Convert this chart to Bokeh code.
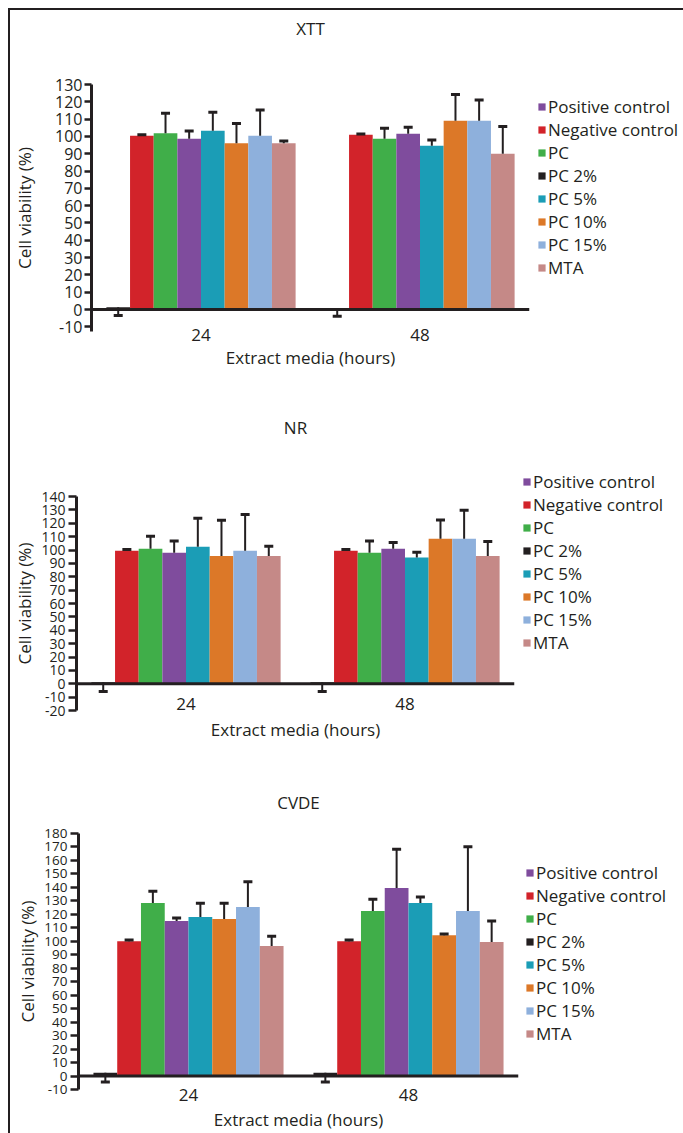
from bokeh.plotting import figure
from bokeh.models import (FactorRange, ColumnDataSource, Whisker, TeeHead, Span,
                          Legend, LegendItem, FixedTicker, Title)
from bokeh.layouts import column
from bokeh.transform import dodge
from bokeh.embed import file_html
from bokeh.resources import INLINE

# ---------------- data ----------------
hours = ["24", "48"]
# order of bars inside each group (left to right)
bar_series = ["PC 2%", "Negative control", "PC", "Positive control",
              "PC 5%", "PC 10%", "PC 15%", "MTA"]
# order of the legend entries
legend_order = ["Positive control", "Negative control", "PC", "PC 2%",
                "PC 5%", "PC 10%", "PC 15%", "MTA"]

# XTT (bar order)
xtt_24 = [1.3, 100.4, 101.8, 98.7, 103.3, 96.0, 100.4, 96.0]
xtt_48 = [0.9, 101.0, 98.7, 101.6, 94.6, 109.1, 109.1, 90.0]
xtt_err_24 = [4.8, 0.6, 11.6, 4.5, 10.7, 11.4, 14.9, 1.4]
xtt_err_48 = [4.8, 0.4, 6.0, 3.7, 3.4, 15.1, 12.0, 15.8]

# NR
nr_24 = [1.2, 99.5, 101.0, 98.0, 102.5, 95.5, 99.5, 95.5]
nr_48 = [1.2, 99.5, 98.0, 101.0, 94.3, 108.5, 108.5, 95.5]
nr_err_24 = [7.0, 0.8, 9.3, 8.7, 21.3, 26.8, 27.0, 7.3]
nr_err_48 = [7.0, 0.8, 8.8, 4.7, 4.1, 13.9, 21.3, 10.9]

# CVDE
cvde_24 = [2.4, 100.0, 128.5, 115.0, 118.0, 116.5, 125.5, 96.5]
cvde_48 = [2.4, 100.0, 122.5, 139.5, 128.5, 104.5, 122.5, 99.5]
cvde_err_24 = [6.8, 1.0, 8.7, 2.2, 10.3, 11.8, 18.7, 7.2]
cvde_err_48 = [6.8, 1.0, 8.7, 28.8, 4.4, 1.0, 47.7, 15.5]

xtt_ticks = list(range(-10, 131, 10))
nr_ticks = list(range(-20, 141, 10))
cvde_ticks = list(range(-10, 181, 10))

# ---------------- style ----------------
INK = "#231f20"
FONT = "Open Sans"
colors = {
    "Positive control": "#7f4c9d",
    "Negative control": "#d2232a",
    "PC": "#40ae49",
    "PC 2%": "#231f20",
    "PC 5%": "#1b9db6",
    "PC 10%": "#dc7828",
    "PC 15%": "#8eb0dc",
    "MTA": "#c58987",
}
downward = {"PC 2%"}   # series whose error bar is drawn below the bar


def make_panel(title, m24, m48, e24, e48, ticks, *, ystart, fw, fh, left, top, bottom,
               leg_w, shift, ytick_size, tick_out, tick_standoff, ylab_standoff,
               xlab_standoff, xtick_standoff, title_gap, legend_loc):
    p = figure(x_range=FactorRange(*hours), y_range=(ystart, ticks[-1]),
               frame_width=fw, frame_height=fh,
               min_border_left=left, min_border_right=leg_w,
               min_border_top=top, min_border_bottom=bottom,
               output_backend="svg", toolbar_location=None,
               title_location=None,
               background_fill_color="white", border_fill_color=None,
               styles={"margin-left": f"{shift}px"})
    p.outline_line_color = None
    p.xgrid.grid_line_color = None
    p.ygrid.grid_line_color = None

    n = len(bar_series)
    bw = 0.108
    rends = {}
    for i, name in enumerate(bar_series):
        off = (i - (n - 1) / 2) * bw
        v = [m24[i], m48[i]]
        e = [e24[i], e48[i]]
        if name in downward:
            lo = [a - b for a, b in zip(v, e)]
            hi = v
        else:
            lo = v
            hi = [a + b for a, b in zip(v, e)]
        src = ColumnDataSource(dict(hours=hours, value=v, lo=lo, hi=hi))
        rends[name] = p.vbar(x=dodge("hours", off, range=p.x_range), top="value",
                             bottom=0, width=bw, source=src,
                             fill_color=colors[name], line_color=None)
        head = TeeHead(size=9, line_width=3, line_color=INK)
        w = Whisker(source=src, base=dodge("hours", off, range=p.x_range),
                    lower="lo", upper="hi", line_color=INK, line_width=2,
                    upper_head=None if name in downward else head,
                    lower_head=head if name in downward else None,
                    level="glyph")
        p.add_layout(w)

    p.add_layout(Span(location=0, dimension="width", line_color=INK, line_width=3))

    # y axis
    ya = p.yaxis[0]
    ya.ticker = FixedTicker(ticks=ticks)
    ya.major_label_overrides = {t: str(t) for t in ticks if t < 0}
    ya.axis_line_color = INK
    ya.axis_line_width = 3
    ya.major_tick_line_color = INK
    ya.major_tick_line_width = 2.5
    ya.major_tick_in = 0
    ya.major_tick_out = tick_out
    ya.minor_tick_line_color = None
    ya.major_label_standoff = tick_standoff
    ya.major_label_text_font = FONT
    ya.major_label_text_font_size = ytick_size
    ya.major_label_text_color = INK
    ya.axis_label = "Cell viability (%)"
    ya.axis_label_text_font = FONT
    ya.axis_label_text_font_size = "17px"
    ya.axis_label_text_font_style = "normal"
    ya.axis_label_text_color = INK
    ya.axis_label_standoff = ylab_standoff

    # x axis
    xa = p.xaxis[0]
    xa.axis_line_color = None
    xa.major_tick_line_color = None
    xa.minor_tick_line_color = None
    xa.major_label_standoff = xtick_standoff
    xa.major_label_text_font = FONT
    xa.major_label_text_font_size = "17px"
    xa.major_label_text_color = INK
    xa.axis_label = "Extract media (hours)"
    xa.axis_label_text_font = FONT
    xa.axis_label_text_font_size = "17px"
    xa.axis_label_text_font_style = "normal"
    xa.axis_label_text_color = INK
    xa.axis_label_standoff = xlab_standoff

    # title: a thin spacer next to the frame, then the title text above it
    p.add_layout(Title(text=" ", text_font_size="1px", standoff=title_gap), "above")
    p.add_layout(Title(text=title, align="center", standoff=0, text_font=FONT,
                       text_font_size="17px", text_font_style="normal",
                       text_color=INK), "above")

    items = [LegendItem(label=nm, renderers=[rends[nm]]) for nm in legend_order]
    lg = Legend(items=items, location=legend_loc, orientation="vertical",
                glyph_width=9, glyph_height=9, label_standoff=2,
                label_height=23, spacing=0, padding=0, margin=0,
                label_text_font=FONT, label_text_font_size="17px",
                label_text_color=INK, background_fill_alpha=0,
                border_line_color=None)
    p.add_layout(lg, "right")
    return p


p1 = make_panel("XTT", xtt_24, xtt_48, xtt_err_24, xtt_err_48, xtt_ticks,
                ystart=-12.7, fw=438, fh=247, left=80, top=74, bottom=62, leg_w=155,
                shift=0, ytick_size="16px", tick_out=7, tick_standoff=2,
                ylab_standoff=16, xlab_standoff=2, xtick_standoff=-9, title_gap=42,
                legend_loc=(8, 52))
p2 = make_panel("NR", nr_24, nr_48, nr_err_24, nr_err_48, nr_ticks,
                ystart=-20, fw=438, fh=214, left=65, top=103, bottom=60, leg_w=155,
                shift=-15, ytick_size="14px", tick_out=8, tick_standoff=3,
                ylab_standoff=2, xlab_standoff=5, xtick_standoff=-19, title_gap=55,
                legend_loc=(8, 56))
p3 = make_panel("CVDE", cvde_24, cvde_48, cvde_err_24, cvde_err_48, cvde_ticks,
                ystart=-10, fw=440, fh=256, left=67, top=63, bottom=44, leg_w=155,
                shift=-13, ytick_size="13.5px", tick_out=8, tick_standoff=3,
                ylab_standoff=2, xlab_standoff=4, xtick_standoff=-7, title_gap=17,
                legend_loc=(7, 44))

layout = column(p1, p2, p3, spacing=0,
                styles={"margin-left": "8px", "margin-top": "8px",
                        "border-left": "2px solid #231f20",
                        "border-top": "2px solid #231f20"})

open("out.html", "w").write(file_html(layout, INLINE))
